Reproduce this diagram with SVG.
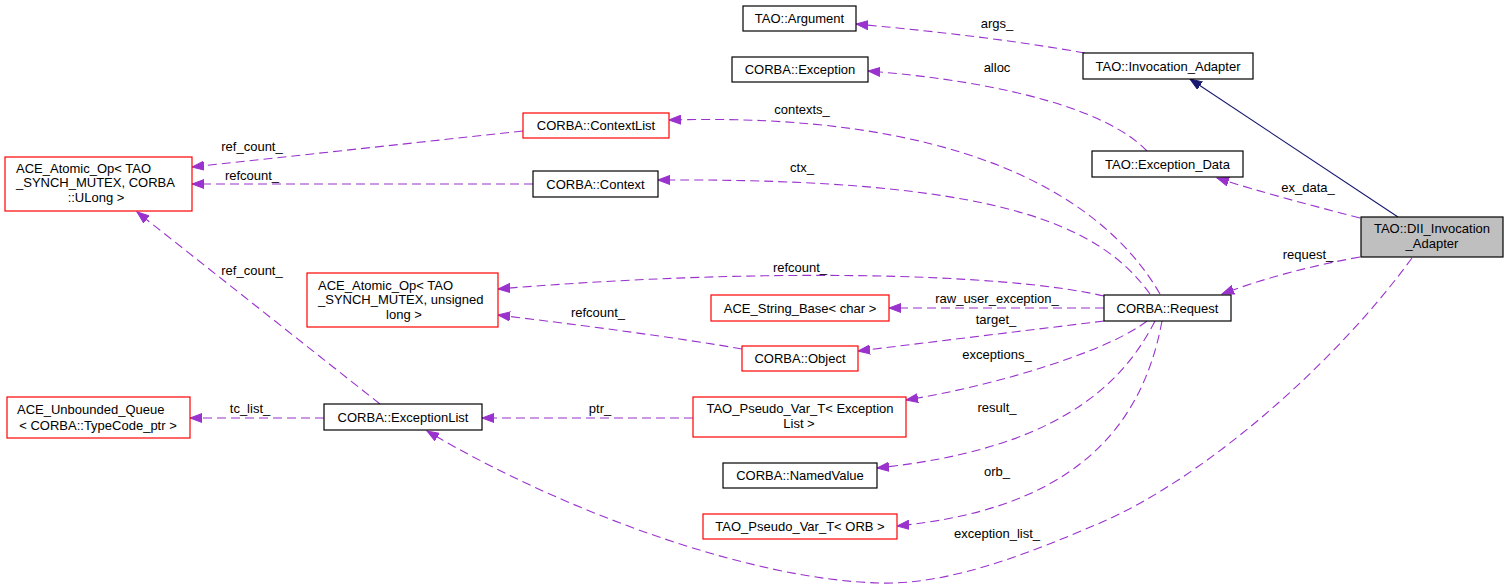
<svg xmlns="http://www.w3.org/2000/svg" width="1509" height="588" viewBox="0 0 1509 588">
<style>
  .n rect { fill: #ffffff; stroke: #000000; stroke-width: 1.2; }
  .n.r rect { stroke: #ff0000; }
  .n.g rect { fill: #bfbfbf; }
  text { font-family: "Liberation Sans", Arial, sans-serif; font-size: 13px; fill: #000000; }
  .n text { text-anchor: middle; }
  .n text.l { text-anchor: start; }
  .e path { fill: none; stroke: #9a32cd; stroke-width: 1.1; stroke-dasharray: 9,5; marker-end: url(#ap); }
  .e path.inh { stroke: #191970; stroke-dasharray: none; marker-end: url(#an); }
  .lbl text { text-anchor: middle; }
</style>
<defs>
  <marker id="ap" markerWidth="13" markerHeight="10" refX="12" refY="5" orient="auto" markerUnits="userSpaceOnUse">
    <path d="M0,0.5 L12,5 L0,9.5 z" fill="#9a32cd" stroke="#9a32cd" stroke-width="1"/>
  </marker>
  <marker id="an" markerWidth="13" markerHeight="10" refX="12" refY="5" orient="auto" markerUnits="userSpaceOnUse">
    <path d="M0,0.5 L12,5 L0,9.5 z" fill="#191970" stroke="#191970" stroke-width="1"/>
  </marker>
</defs>
<rect x="0" y="0" width="1509" height="588" fill="#ffffff"/>

<g id="edges" class="e">
  <path d="M1085,53 C1000,38 920,30 856,24"/>
  <path d="M1147,151 C1110,112 1010,82 868,71"/>
  <path d="M1160,294 C1100,190 950,112 669,120"/>
  <path d="M1150,294 C1100,225 1000,178 658,180"/>
  <path d="M1104,296 C1000,272 750,268 498,289"/>
  <path d="M1104,308 L889,308"/>
  <path d="M1104,321 L858,351"/>
  <path d="M1147,321 C1110,350 1000,385 906,400"/>
  <path d="M1155,321 C1120,390 1050,450 877,468"/>
  <path d="M1162,321 C1140,440 1060,510 897,526"/>
  <path d="M1412,258 C1330,370 1200,480 1100,523 C1030,553 950,585 880,583 C750,580 560,510 427,431"/>
  <path d="M1360,218 C1310,205 1260,192 1217,178"/>
  <path d="M1360,257 C1310,266 1265,278 1222,294"/>
  <path class="inh" d="M1398,217 L1190,79"/>
  <path d="M523,131 L192,167"/>
  <path d="M533,184 L192,184"/>
  <path d="M742,349 C680,338 580,325 498,315"/>
  <path d="M693,418 L482,418"/>
  <path d="M324,418 L190,418"/>
  <path d="M380,404 L137,212"/>
</g>

<g id="edge-labels" class="lbl">
  <text x="997" y="28">args_</text>
  <text x="997" y="72">alloc</text>
  <text x="802" y="114">contexts_</text>
  <text x="802" y="172">ctx_</text>
  <text x="252" y="151">ref_count_</text>
  <text x="252" y="180">refcount_</text>
  <text x="800" y="272">refcount_</text>
  <text x="997" y="303">raw_user_exception_</text>
  <text x="996" y="324">target_</text>
  <text x="997" y="359">exceptions_</text>
  <text x="598" y="317">refcount_</text>
  <text x="600" y="413">ptr_</text>
  <text x="250" y="413">tc_list_</text>
  <text x="252" y="275">ref_count_</text>
  <text x="1308" y="192">ex_data_</text>
  <text x="1308" y="259">request_</text>
  <text x="997" y="412">result_</text>
  <text x="997" y="476">orb_</text>
  <text x="997" y="538">exception_list_</text>
</g>

<g id="node-dii" class="n g">
  <rect x="1361" y="217" width="142" height="40"/>
  <text x="1432" y="232.5">TAO::DII_Invocation</text>
  <text x="1432" y="247.5">_Adapter</text>
</g>
<g id="node-invocation-adapter" class="n">
  <rect x="1083" y="53" width="170" height="26"/>
  <text x="1168" y="70.5">TAO::Invocation_Adapter</text>
</g>
<g id="node-argument" class="n">
  <rect x="743" y="6" width="113" height="25"/>
  <text x="799.5" y="23">TAO::Argument</text>
</g>
<g id="node-exception-data" class="n">
  <rect x="1092" y="151" width="151" height="26"/>
  <text x="1167.5" y="168.5">TAO::Exception_Data</text>
</g>
<g id="node-corba-exception" class="n">
  <rect x="732" y="57" width="136" height="25"/>
  <text x="800" y="74">CORBA::Exception</text>
</g>
<g id="node-request" class="n">
  <rect x="1104" y="295" width="127" height="26"/>
  <text x="1167.5" y="312.5">CORBA::Request</text>
</g>
<g id="node-contextlist" class="n r">
  <rect x="523" y="113" width="146" height="25"/>
  <text x="596" y="130">CORBA::ContextList</text>
</g>
<g id="node-context" class="n">
  <rect x="533" y="171" width="125" height="26"/>
  <text x="595.5" y="188.5">CORBA::Context</text>
</g>
<g id="node-atomic-ulong" class="n r">
  <rect x="5" y="157" width="187" height="54"/>
  <text class="l" x="16" y="172.5">ACE_Atomic_Op&lt; TAO</text>
  <text class="l" x="16" y="187">_SYNCH_MUTEX, CORBA</text>
  <text x="96" y="201.5">::ULong &gt;</text>
</g>
<g id="node-atomic-unsigned" class="n r">
  <rect x="307" y="273" width="191" height="54"/>
  <text class="l" x="318" y="289.5">ACE_Atomic_Op&lt; TAO</text>
  <text class="l" x="318" y="304">_SYNCH_MUTEX, unsigned</text>
  <text x="404" y="318.5">long &gt;</text>
</g>
<g id="node-string-base" class="n r">
  <rect x="711" y="295" width="178" height="26"/>
  <text x="800" y="312.5">ACE_String_Base&lt; char &gt;</text>
</g>
<g id="node-object" class="n r">
  <rect x="742" y="346" width="116" height="25"/>
  <text x="800" y="363">CORBA::Object</text>
</g>
<g id="node-pseudo-exception" class="n r">
  <rect x="693" y="397" width="213" height="40"/>
  <text x="800" y="412.5">TAO_Pseudo_Var_T&lt; Exception</text>
  <text x="799" y="427.5">List &gt;</text>
</g>
<g id="node-namedvalue" class="n">
  <rect x="723" y="463" width="154" height="25"/>
  <text x="800" y="480">CORBA::NamedValue</text>
</g>
<g id="node-pseudo-orb" class="n r">
  <rect x="703" y="514" width="194" height="25"/>
  <text x="800" y="531">TAO_Pseudo_Var_T&lt; ORB &gt;</text>
</g>
<g id="node-exceptionlist" class="n">
  <rect x="324" y="404" width="158" height="26"/>
  <text x="403" y="421.5">CORBA::ExceptionList</text>
</g>
<g id="node-unbounded-queue" class="n r">
  <rect x="7" y="397" width="183" height="41"/>
  <text class="l" x="17" y="413.5">ACE_Unbounded_Queue</text>
  <text x="98" y="429.5">&lt; CORBA::TypeCode_ptr &gt;</text>
</g>
</svg>
